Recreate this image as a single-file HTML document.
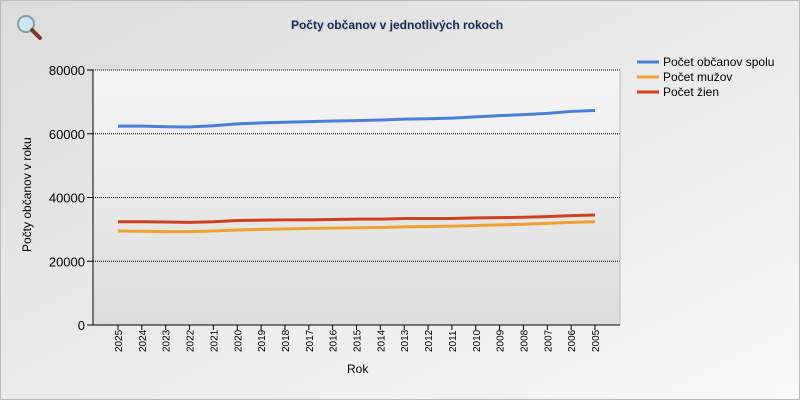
<!DOCTYPE html>
<html><head><meta charset="utf-8"><style>
html,body{margin:0;padding:0;}
body{width:800px;height:400px;overflow:hidden;font-family:"Liberation Sans",sans-serif;}
</style></head><body>
<svg id="s" width="800" height="400" xmlns="http://www.w3.org/2000/svg">
<defs>
<linearGradient id="bg" x1="0" y1="0" x2="1" y2="1"><stop offset="0" stop-color="#dcdcdc"/><stop offset="1" stop-color="#f8f8f8"/></linearGradient>
<linearGradient id="pa" x1="0" y1="0" x2="0" y2="1"><stop offset="0" stop-color="#f6f6f6"/><stop offset="1" stop-color="#dcdcdc"/></linearGradient>
</defs>
<rect x="0.5" y="0.5" width="799" height="399" fill="url(#bg)" stroke="#bbb"/>
<circle cx="26" cy="24" r="8" fill="#cfe6f5" stroke="#8a9aa6" stroke-width="2"/>
<line x1="32" y1="30" x2="40" y2="38" stroke="#7a3a20" stroke-width="4" stroke-linecap="round"/>
<text x="398" y="30" font-size="12" fill="#d0d0d0" text-anchor="middle" font-weight="bold">Počty občanov v jednotlivých rokoch</text>
<text x="397" y="29" font-size="12" fill="#1a2a5a" text-anchor="middle" font-weight="bold">Počty občanov v jednotlivých rokoch</text>
<rect x="93" y="70" width="527" height="255" fill="url(#pa)"/>
<g id="g"></g>
</svg>
<script>
var g=document.getElementById('g'),h='';
function Y(v){return 325-v*255/80000;}
for(var i=1;i<=4;i++){var y=Y(i*20000);h+='<line x1="93" y1="'+y+'" x2="620" y2="'+y+'" stroke="#000" stroke-dasharray="1,1"/>';}
h+='<line x1="620" y1="70" x2="620" y2="325" stroke="#bbb"/>';
h+='<line x1="93" y1="70" x2="93" y2="325" stroke="#000"/><line x1="87" y1="325" x2="620" y2="325" stroke="#000"/>';
for(var i=0;i<=4;i++){var y=Y(i*20000);h+='<line x1="87" y1="'+y+'" x2="93" y2="'+y+'" stroke="#000"/><text x="85" y="'+(y+5)+'" font-size="13" text-anchor="end">'+(i*20000)+'</text>';}
var B=[62400,62400,62200,62100,62500,63100,63400,63600,63800,64000,64100,64300,64600,64700,64900,65300,65700,66000,66400,67000,67300];
var R=[32400,32400,32300,32200,32400,32800,32900,33000,33000,33100,33200,33200,33400,33400,33400,33600,33700,33800,34000,34300,34500];
var O=[29500,29400,29300,29300,29500,29800,30000,30100,30300,30400,30500,30600,30800,30900,31000,31200,31400,31600,31900,32200,32400];
function X(i){return 118+i*23.85;}
for(var i=0;i<21;i++){var x=X(i);h+='<line x1="'+x+'" y1="325" x2="'+x+'" y2="330" stroke="#000"/><text transform="translate('+(x+4)+',352) rotate(-90)" font-size="10">'+(2025-i)+'</text>';}
function P(a,c){var p='';for(var i=0;i<21;i++)p+=(i?'L':'M')+X(i)+','+Y(a[i]);h+='<path d="'+p+'" fill="none" stroke="'+c+'" stroke-width="3"/>';}
P(O,'#f0a030');P(R,'#d04020');P(B,'#4a80d8');
h+='<text x="347" y="373" font-size="12">Rok</text>';
h+='<text transform="translate(31,252) rotate(-90)" font-size="12">Počty občanov v roku</text>';
var L=[['#4a80d8','Počet občanov spolu'],['#f0a030','Počet mužov'],['#d04020','Počet žien']];
for(var i=0;i<3;i++){var y=62+i*15;h+='<line x1="637" y1="'+y+'" x2="659" y2="'+y+'" stroke="'+L[i][0]+'" stroke-width="3"/><text x="663" y="'+(y+4)+'" font-size="12">'+L[i][1]+'</text>';}
g.innerHTML=h;
</script>
</body></html>
